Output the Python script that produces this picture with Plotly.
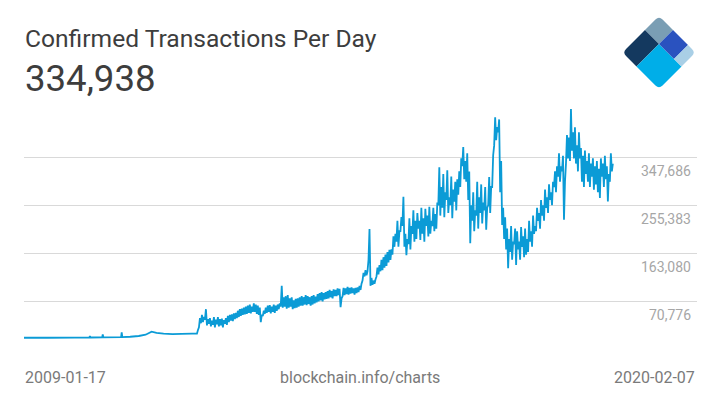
import math
import pandas as pd
import plotly.graph_objects as go

# ---------------- data (values in thousands of transactions per day) ----------------
early_dates = ["2009-01-17", "2009-07-01", "2010-01-01", "2010-04-10", "2010-04-14", "2010-04-18",
               "2010-07-07", "2010-07-11", "2010-07-15", "2010-11-14", "2010-11-18", "2010-11-22",
               "2011-01-15", "2011-03-15", "2011-05-01", "2011-06-11", "2011-07-15", "2011-09-01",
               "2011-11-01", "2012-01-01", "2012-03-15"]
early_values_k = [0.1, 0.1, 0.3, 0.5, 3.5, 0.6,
                  0.8, 6.7, 1.0, 1.2, 10.5, 1.5,
                  2.0, 3.5, 6.0, 11.7, 9.5, 8.0,
                  7.0, 7.5, 8.0]

# From 2012-04-17 to 2020-02-07: daily range read per ~2-week column (low, high)
late_start = "2012-04-17"
late_end = "2020-02-07"
late_lows_k = [
    8, 20, 28, 30, 35, 24, 27, 22, 25, 20,
    26, 22, 24, 20, 27, 25, 30, 33, 32, 36,
    38, 40, 42, 44, 45, 46, 48, 47, 50, 50,
    46, 44, 30, 42, 46, 48, 50, 47, 50, 48,
    52, 55, 60, 58, 60, 56, 58, 60, 55, 57,
    58, 60, 62, 62, 64, 63, 65, 62, 64, 66,
    68, 70, 72, 70, 74, 75, 76, 78, 76, 80,
    80, 82, 59, 80, 82, 84, 83, 85, 86, 83,
    86, 88, 92, 110, 118, 120, 150, 100, 102, 104,
    118, 122, 128, 130, 135, 138, 145, 150, 160, 175,
    185, 175, 205, 215, 175, 159, 180, 170, 200, 185,
    190, 210, 188, 200, 185, 215, 195, 200, 215, 205,
    210, 255, 235, 250, 232, 265, 240, 255, 230, 262,
    245, 275, 290, 330, 305, 300, 265, 182, 225, 205,
    235, 210, 240, 220, 245, 208, 255, 240, 290, 370,
    380, 395, 280, 217, 190, 170, 134, 165, 150, 180,
    140, 170, 150, 175, 155, 160, 165, 185, 175, 200,
    205, 225, 210, 235, 225, 250, 240, 265, 255, 290,
    280, 310, 300, 320, 227, 335, 345, 340, 360, 345,
    335, 320, 345, 300, 290, 315, 300, 290, 310, 285,
    295, 280, 269, 310, 290, 305, 262, 300, 320,
]
late_highs_k = [
    15, 38, 44, 40, 55, 36, 38, 33, 40, 35,
    40, 36, 37, 34, 38, 42, 44, 45, 47, 48,
    52, 55, 56, 58, 60, 62, 64, 60, 66, 64,
    62, 58, 44, 52, 58, 62, 63, 60, 64, 62,
    64, 66, 100, 78, 80, 82, 76, 78, 72, 75,
    76, 78, 80, 78, 82, 80, 78, 80, 82, 79,
    84, 86, 88, 86, 88, 90, 92, 90, 93, 92,
    95, 94, 76, 96, 95, 98, 96, 97, 95, 96,
    97, 100, 104, 125, 130, 128, 209, 115, 110, 112,
    135, 140, 150, 155, 160, 165, 169, 170, 195, 200,
    225, 205, 232, 271, 200, 190, 230, 215, 245, 225,
    240, 225, 250, 230, 248, 235, 252, 225, 250, 238,
    260, 328, 290, 315, 280, 322, 270, 310, 285, 300,
    305, 320, 345, 367, 340, 355, 320, 255, 280, 245,
    300, 270, 295, 260, 290, 250, 309, 290, 351, 424,
    405, 420, 340, 250, 232, 210, 190, 215, 185, 210,
    205, 185, 213, 195, 210, 190, 225, 205, 235, 215,
    250, 240, 265, 255, 285, 270, 295, 280, 300, 320,
    330, 355, 330, 350, 300, 390, 385, 440, 395, 405,
    370, 395, 365, 350, 360, 340, 355, 335, 345, 330,
    340, 325, 345, 335, 350, 330, 315, 355, 334.938,
]

grid_values = [-21527, 70776, 163080, 255383, 347686]
grid_labels = ["", "70,776", "163,080", "255,383", "347,686"]

title_text = "Confirmed Transactions Per Day"
latest_text = "334,938"
start_label = "2009-01-17"
end_label = "2020-02-07"
source_label = "blockchain.info/charts"

# ---------------- build series ----------------
late_values_k = []
for lo, hi in zip(late_lows_k, late_highs_k):
    late_values_k += [lo, hi]
dates = list(pd.to_datetime(early_dates)) + list(pd.date_range(late_start, late_end, periods=len(late_values_k)))
values = [v * 1000 for v in early_values_k + late_values_k]

W, H = 720, 405
L, R, T, B = 24, 697, 100, 349
y_bottom = -21527
y_top = y_bottom + (B - T) / 48 * 92303


def px(x):
    return (x - L) / (R - L)


def py(y):
    return (B - y) / (B - T)


fig = go.Figure()
fig.add_trace(go.Scatter(x=dates, y=values, mode="lines",
                         line=dict(color="#0b9bd6", width=1.8, simplify=False), hoverinfo="skip"))

x_end = pd.Timestamp("2009-01-17") + pd.Timedelta(days=(R - L) * 4039 / 589)

fig.update_layout(
    width=W, height=H,
    margin=dict(l=L, r=W - R, t=T, b=H - B),
    paper_bgcolor="white", plot_bgcolor="white",
    showlegend=False,
    font=dict(family="Roboto, Arial, sans-serif"),
    xaxis=dict(range=[pd.Timestamp("2009-01-17"), x_end], showgrid=False, showticklabels=False,
               zeroline=False, showline=False, ticks=""),
    yaxis=dict(range=[y_bottom, y_top], tickvals=grid_values, showticklabels=False,
               showgrid=True, gridcolor="#d9d9d9", gridwidth=1, zeroline=False, showline=False),
)

annotations = []
for v, lab in zip(grid_values, grid_labels):
    if lab:
        annotations.append(dict(x=px(693), xref="paper", y=v, yref="y", text=lab,
                                showarrow=False, xanchor="right", yanchor="top", yshift=-4,
                                font=dict(size=14, color="#a6a6a6", family="Roboto")))

annotations += [
    dict(x=px(23), y=py(38), xref="paper", yref="paper", text=title_text, showarrow=False,
         xanchor="left", yanchor="middle", font=dict(size=24.6, color="#3d3d3d", family="Roboto")),
    dict(x=px(23), y=py(78), xref="paper", yref="paper", text=latest_text, showarrow=False,
         xanchor="left", yanchor="middle", font=dict(size=36.6, color="#3d3d3d", family="Roboto")),
    dict(x=px(23), y=py(377), xref="paper", yref="paper", text=start_label, showarrow=False,
         xanchor="left", yanchor="middle", font=dict(size=16, color="#7a7a7a", family="Roboto")),
    dict(x=px(360), y=py(377), xref="paper", yref="paper", text=source_label, showarrow=False,
         xanchor="center", yanchor="middle", font=dict(size=16, color="#7a7a7a", family="Roboto")),
    dict(x=px(697), y=py(377), xref="paper", yref="paper", text=end_label, showarrow=False,
         xanchor="right", yanchor="middle", font=dict(size=16, color="#7a7a7a", family="Roboto")),
]
fig.update_layout(annotations=annotations)


# ---------------- logo (rotated squares with rounded outer corners) ----------------
def logo_poly(pq_pts, color, round_idx=None, r=5.0):
    pts = [((p + q) / 2, (q - p) / 2) for p, q in pq_pts]
    n = len(pts)
    cmds = []
    for i, (x, y) in enumerate(pts):
        if round_idx is not None and i == round_idx:
            ax, ay = pts[i - 1]
            bx, by = pts[(i + 1) % n]
            da = math.hypot(ax - x, ay - y)
            db = math.hypot(bx - x, by - y)
            s = (x + (ax - x) * r / da, y + (ay - y) * r / da)
            e = (x + (bx - x) * r / db, y + (by - y) * r / db)
            cmds.append(("L", s))
            cmds.append(("Q", (x, y), e))
        else:
            cmds.append(("L", (x, y)))
    path = ""
    for j, c in enumerate(cmds):
        if c[0] == "L":
            path += ("M " if j == 0 else " L ") + f"{px(c[1][0]):.5f},{py(c[1][1]):.5f}"
        else:
            path += f" Q {px(c[1][0]):.5f},{py(c[1][1]):.5f} {px(c[2][0]):.5f},{py(c[2][1]):.5f}"
    path += " Z"
    return dict(type="path", path=path, xref="paper", yref="paper",
                fillcolor=color, line=dict(width=0), layer="above")


shapes = [
    logo_poly([(615, 675), (643, 675), (643, 703), (615, 703)], "#7a9eb4", round_idx=1),
    logo_poly([(570, 675), (615, 675), (615, 703), (570, 703)], "#14395f", round_idx=0),
    logo_poly([(570, 703), (615, 703), (615, 748), (570, 748)], "#00aee8", round_idx=3),
    logo_poly([(615, 703), (643, 703), (643, 733), (615, 733)], "#2a52bf"),
    logo_poly([(615, 733), (643, 733), (643, 748), (615, 748)], "#a9cfe6", round_idx=2),
]
fig.update_layout(shapes=shapes)

fig.write_html("out.html")
